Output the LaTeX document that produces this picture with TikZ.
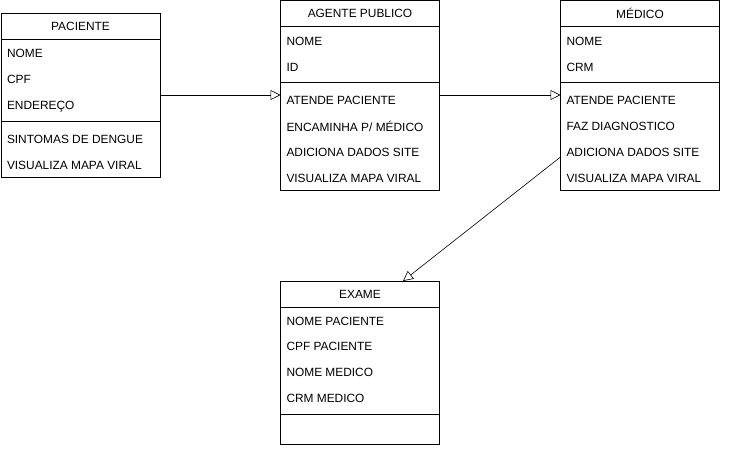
\documentclass[tikz,border=0pt]{standalone}
\usepackage{fontspec}
\setmainfont{Liberation Sans}
\usetikzlibrary{arrows.meta}
\newcommand\classfont{\fontsize{11.9}{14}\selectfont}
\begin{document}
\begin{tikzpicture}[x=1pt,y=-1pt,inner sep=0pt,outer sep=0pt,line width=0.8pt,
	classhead/.style={draw,rectangle,minimum width=159pt,minimum height=26pt,font=\classfont},
	classpart/.style={draw,rectangle,minimum width=159pt,anchor=north west},
	member/.style={anchor=west,inner xsep=6pt,font=\classfont},
	gen/.style={-{Triangle[open,length=10pt,width=10pt]},line width=0.6pt}]
	\useasboundingbox (0,0) rectangle (732,456);
	% paciente
	\draw (80.5,26) node[classhead] (pacHead) {PACIENTE};
	\draw (pacHead.south west) node[classpart,minimum height=82pt] (pacAttr) {};
	\draw (pacAttr.south west) node[classpart,minimum height=56pt] (pacMeth) {};
	\draw (1,53) node[member] (pacNome) {NOME};
	\draw (1,79) node[member] (pacCpf) {CPF};
	\draw (1,106.5) node[member] (pacEnd) {ENDEREÇO};
	\draw (1,139) node[member] (pacSint) {SINTOMAS DE DENGUE};
	\draw (1,165) node[member] (pacMapa) {VISUALIZA MAPA VIRAL};
	% agente publico
	\draw (360,13.5) node[classhead] (agHead) {AGENTE PUBLICO};
	\draw (agHead.south west) node[classpart,minimum height=56pt] (agAttr) {};
	\draw (agAttr.south west) node[classpart,minimum height=108pt] (agMeth) {};
	\draw (280.5,41) node[member] (agNome) {NOME};
	\draw (280.5,67) node[member] (agId) {ID};
	\draw (280.5,100) node[member] (agAtende) {ATENDE PACIENTE};
	\draw (280.5,126) node[member] (agEnc) {ENCAMINHA P/ MÉDICO};
	\draw (280.5,152) node[member] (agAdic) {ADICIONA DADOS SITE};
	\draw (280.5,178) node[member] (agMapa) {VISUALIZA MAPA VIRAL};
	% medico
	\draw (640,13.5) node[classhead] (mdHead) {MÉDICO};
	\draw (mdHead.south west) node[classpart,minimum height=56pt] (mdAttr) {};
	\draw (mdAttr.south west) node[classpart,minimum height=108pt] (mdMeth) {};
	\draw (560.5,41) node[member] (mdNome) {NOME};
	\draw (560.5,67) node[member] (mdCrm) {CRM};
	\draw (560.5,100) node[member] (mdAtende) {ATENDE PACIENTE};
	\draw (560.5,126) node[member] (mdDiag) {FAZ DIAGNOSTICO};
	\draw (560.5,152) node[member] (mdAdic) {ADICIONA DADOS SITE};
	\draw (560.5,178) node[member] (mdMapa) {VISUALIZA MAPA VIRAL};
	% exame
	\draw (360,294) node[classhead] (exHead) {EXAME};
	\draw (exHead.south west) node[classpart,minimum height=107pt] (exAttr) {};
	\draw (exAttr.south west) node[classpart,minimum height=30pt] (exMeth) {};
	\draw (280.5,321) node[member] (exNomePac) {NOME PACIENTE};
	\draw (280.5,346) node[member] (exCpfPac) {CPF PACIENTE};
	\draw (280.5,372) node[member] (exNomeMed) {NOME MEDICO};
	\draw (280.5,398) node[member] (exCrmMed) {CRM MEDICO};
	% ligacoes
	\coordinate (agIn) at ([yshift=5pt]agAtende.west);
	\coordinate (mdIn) at ([yshift=5pt]mdAtende.west);
	\draw[gen] (pacAttr.east |- agIn) -- (agIn);
	\draw[gen] (agMeth.east |- mdIn) -- (mdIn);
	\draw[gen] ([yshift=-5pt]mdAdic.west) -- ([xshift=43pt]exHead.north);
\end{tikzpicture}
\end{document}
